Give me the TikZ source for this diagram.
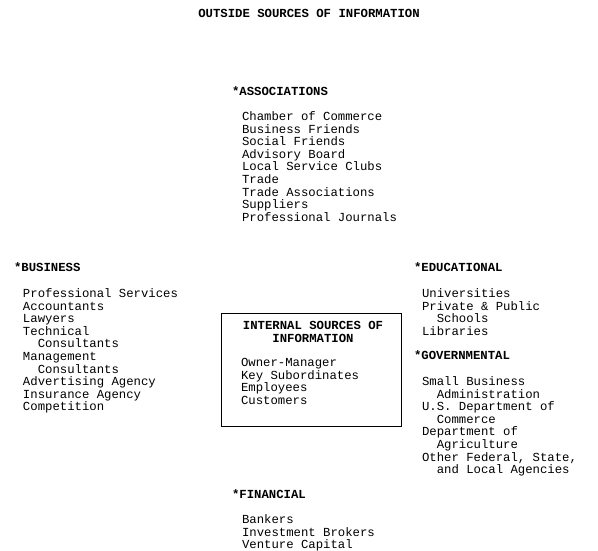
\documentclass[tikz,border=0pt]{standalone}
\usepackage{fontspec}
\setmonofont{Liberation Mono}
\begin{document}
\begin{tikzpicture}[x=1pt,y=-1pt,
  every node/.style={inner sep=0pt, outer sep=0pt, font=\ttfamily\fontsize{12.3}{12.6}\selectfont},
  head/.style={anchor=base west, font=\ttfamily\bfseries\fontsize{12.3}{13}\selectfont},
  list/.style={anchor=base west, align=left},
  frame/.style={draw, line width=0.8pt, minimum width=180pt, minimum height=113pt, anchor=north west}]
\useasboundingbox (0,0) rectangle (598,551);
% multi-line nodes are placed by the baseline of their last line
\node[head, anchor=base] (title) at (309,18) {OUTSIDE SOURCES OF INFORMATION};
\node[head] (assoc) at (232,96) {*ASSOCIATIONS};
\node[list] (assoclist) at (242,221.3) {Chamber of Commerce\\Business Friends\\Social Friends\\Advisory Board\\Local Service Clubs\\Trade\\Trade Associations\\Suppliers\\Professional Journals};
\node[head] (bus) at (14,271.5) {*BUSINESS};
\node[list] (buslist) at (23,410.9) {Professional Services\\Accountants\\Lawyers\\Technical\\\phantom{xx}Consultants\\Management\\\phantom{xx}Consultants\\Advertising Agency\\Insurance Agency\\Competition};
\node[frame] (box) at (221.7,313) {};
\node[head, anchor=base, align=center] (inthead) at (313,342.5) {INTERNAL SOURCES OF\\INFORMATION};
\node[list] (intlist) at (241,404.3) {Owner-Manager\\Key Subordinates\\Employees\\Customers};
\node[head] (edu) at (414,271.5) {*EDUCATIONAL};
\node[list] (edulist) at (422,335.3) {Universities\\Private \& Public\\\phantom{xx}Schools\\Libraries};
\node[head] (gov) at (414,359.5) {*GOVERNMENTAL};
\node[list] (govlist) at (422,473.7) {Small Business\\\phantom{xx}Administration\\U.S. Department of\\\phantom{xx}Commerce\\Department of\\\phantom{xx}Agriculture\\Other Federal, State,\\\phantom{xx}and Local Agencies};
\node[head] (fin) at (232,498.5) {*FINANCIAL};
\node[list] (finlist) at (242,548.7) {Bankers\\Investment Brokers\\Venture Capital};
\end{tikzpicture}
\end{document}
